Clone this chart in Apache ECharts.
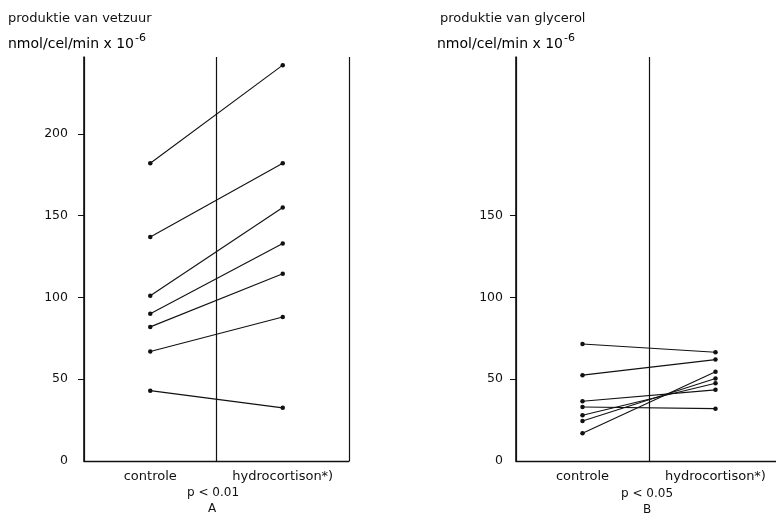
<!DOCTYPE html>
<html>
<head>
<meta charset="utf-8">
<script src="https://cdn.jsdelivr.net/npm/echarts@6/dist/echarts.min.js"></script>
<style>
  html, body { margin: 0; padding: 0; background: #ffffff; }
  #chart { width: 776px; height: 517px; }
</style>
</head>
<body>
<div id="chart"></div>
<script>
// Paired measurements: controle vs hydrocortison, per cell preparation
const categories = ['controle', 'hydrocortison*)'];

// A: produktie van vetzuur (nmol/cel/min x 10^-6)
const vetzuurControle = [182, 137, 101, 90, 82, 67, 43];
const vetzuurHydro    = [242, 182, 155, 133, 114.5, 88, 32.5];

// B: produktie van glycerol (nmol/cel/min x 10^-6)
const glycerolControle = [71.5, 52.5, 36.5, 33, 28, 24.5, 17];
const glycerolHydro    = [66.5, 62, 43.5, 32, 47.5, 50.5, 54.5];

// y-axis tick labels per panel
const vetzuurTicks = [0, 50, 100, 150, 200];
const glycerolTicks = [0, 50, 100, 150];

const FONT = 'DejaVu Sans';
const INK = '#111111';

function xAxisFor(gridIndex) {
  return {
    type: 'category',
    gridIndex: gridIndex,
    data: categories,
    boundaryGap: true,
    axisLine: { show: true, lineStyle: { color: INK, width: 1.4 } },
    axisTick: { show: false },
    splitLine: { show: true, lineStyle: { color: INK, width: 1.2 } },
    axisLabel: { color: INK, fontFamily: FONT, fontSize: 13, margin: 9, hideOverlap: false }
  };
}

function yAxisFor(gridIndex, ticks, margin) {
  return {
    type: 'value',
    gridIndex: gridIndex,
    min: 0,
    max: 247,
    interval: 50,
    axisLine: { show: true, lineStyle: { color: INK, width: 1.6 } },
    axisTick: {
      show: true, inside: false, length: 6,
      lineStyle: { color: INK, width: 1 },
      customValues: ticks.filter(function (v) { return v > 0; })
    },
    axisLabel: {
      color: INK, fontFamily: FONT, fontSize: 12.5, margin: margin,
      customValues: ticks
    },
    splitLine: { show: false }
  };
}

function pairSeries(controle, hydro, axisIndex) {
  return controle.map(function (c, i) {
    return {
      type: 'line',
      xAxisIndex: axisIndex,
      yAxisIndex: axisIndex,
      data: [c, hydro[i]],
      symbol: 'circle',
      symbolSize: 4.5,
      showSymbol: true,
      itemStyle: { color: INK },
      lineStyle: { color: INK, width: 1.1 },
      silent: true,
      animation: false
    };
  });
}

const chart = echarts.init(document.getElementById('chart'), null, { renderer: 'canvas' });

const rich = {
  t: { fontFamily: FONT, fontSize: 14, color: INK },
  sup: { fontFamily: FONT, fontSize: 11, color: INK, padding: [0, 0, 12, 1] }
};

const plain = function (txt) {
  return { text: txt, font: '13px "DejaVu Sans"', fill: INK };
};
const centred = function (txt, size) {
  return { text: txt, font: size + 'px "DejaVu Sans"', fill: INK, align: 'center', verticalAlign: 'middle' };
};

chart.setOption({
  backgroundColor: '#ffffff',
  animation: false,
  grid: [
    { left: 84, top: 57, width: 265, height: 404, outerBoundsMode: 'none' },
    // panel B runs past the right edge of the page
    { left: 516, top: 57, width: 266, height: 404, outerBoundsMode: 'none' }
  ],
  xAxis: [xAxisFor(0), xAxisFor(1)],
  yAxis: [yAxisFor(0, vetzuurTicks, 16), yAxisFor(1, glycerolTicks, 13)],
  series: pairSeries(vetzuurControle, vetzuurHydro, 0)
    .concat(pairSeries(glycerolControle, glycerolHydro, 1)),
  graphic: [
    { type: 'text', left: 8, top: 12, style: plain('produktie van vetzuur') },
    { type: 'text', left: 8, top: 33, style: { text: '{t|nmol/cel/min x 10}{sup|-6}', rich: rich } },
    { type: 'text', left: 440, top: 12, style: plain('produktie van glycerol') },
    { type: 'text', left: 437, top: 33, style: { text: '{t|nmol/cel/min x 10}{sup|-6}', rich: rich } },
    { type: 'text', x: 213, y: 493, style: centred('p < 0.01', 12) },
    { type: 'text', x: 212, y: 509, style: centred('A', 12) },
    { type: 'text', x: 647, y: 494, style: centred('p < 0.05', 12) },
    { type: 'text', x: 647, y: 510, style: centred('B', 12) }
  ]
});
</script>
</body>
</html>
